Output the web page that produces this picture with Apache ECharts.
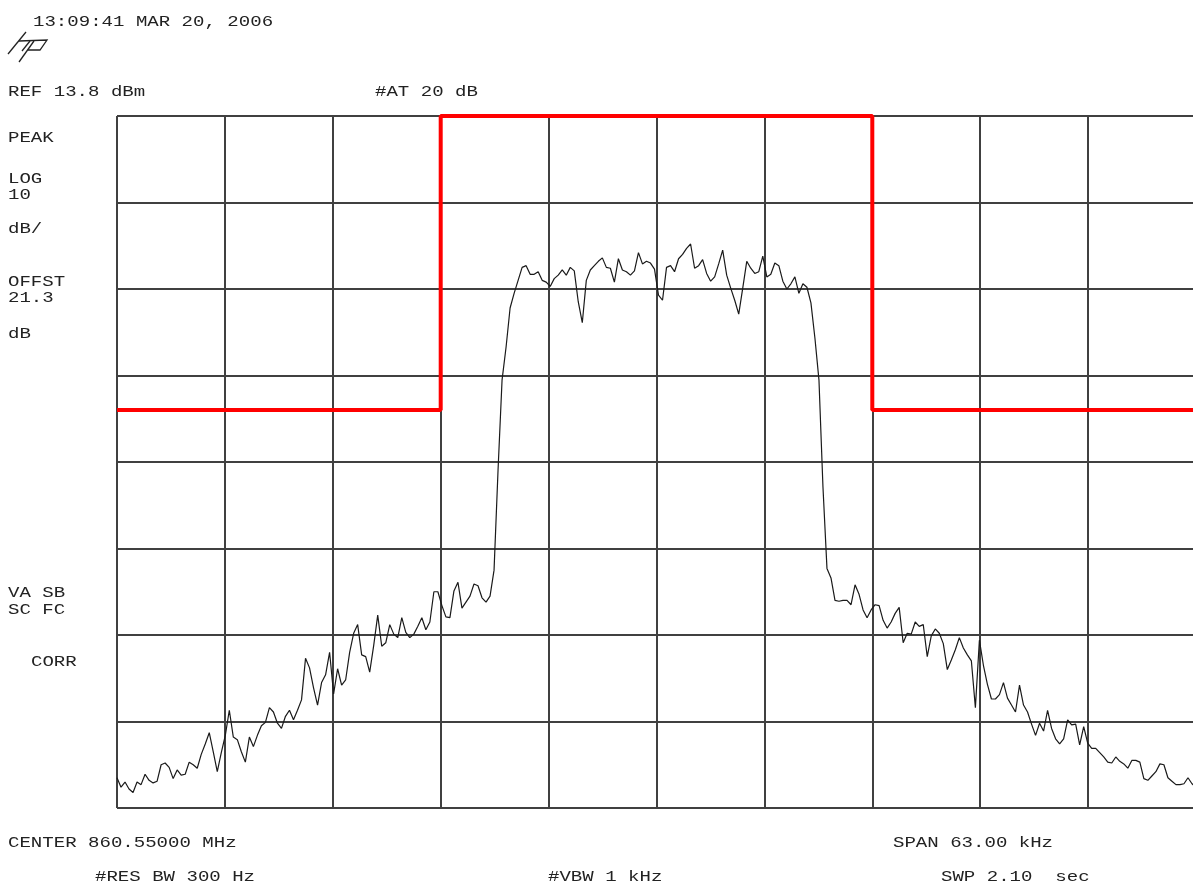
<!DOCTYPE html>
<html>
<head>
<meta charset="utf-8">
<script src="https://cdn.jsdelivr.net/npm/echarts@6/dist/echarts.min.js"></script>
<style>
html,body{margin:0;padding:0;background:#ffffff;overflow:hidden;}
#chart{width:1200px;height:889px;}
</style>
</head>
<body>
<div id="chart"></div>
<script>
// ---- Instrument settings ----
const REF_DBM = 13.8;          // reference level (top graticule line)
const DB_PER_DIV = 10;         // LOG 10 dB/
const SPAN_KHZ = 63.0;         // SPAN 63.00 kHz
const FREQ_DIV_KHZ = 6.3;      // span / 10 divisions

// ---- Trace: level relative to REF (dB), evenly spaced sweep points across the span ----
const sweepLevels = [
  -76.5, -77.6, -77.0, -77.8, -78.2, -77.0, -77.3, -76.1, -76.8, -77.1,
  -76.9, -75.0, -74.8, -75.3, -76.6, -75.6, -76.2, -76.1, -74.7, -75.0,
  -75.4, -73.8, -72.6, -71.3, -73.5, -75.8, -73.6, -71.6, -68.7, -71.8,
  -72.1, -73.5, -74.7, -71.8, -72.9, -71.6, -70.5, -70.1, -68.4, -68.9,
  -70.2, -70.8, -69.4, -68.7, -69.8, -68.7, -67.5, -62.7, -63.8, -66.1,
  -68.1, -65.5, -64.6, -62.0, -66.8, -63.9, -65.8, -65.2, -62.0, -59.8,
  -58.8, -62.3, -62.5, -64.3, -61.2, -57.7, -61.3, -60.9, -58.8, -59.9,
  -60.3, -58.0, -59.7, -60.3, -59.9, -59.0, -58.0, -59.4, -58.5, -55.0,
  -55.0, -56.6, -57.9, -58.0, -54.9, -53.9, -56.9, -56.2, -55.5, -54.1,
  -54.3, -55.7, -56.2, -55.5, -52.5, -40.9, -30.5, -26.7, -22.2, -20.5,
  -19.0, -17.5, -17.3, -18.3, -18.3, -18.0, -19.0, -19.2, -19.7, -18.8,
  -18.4, -17.8, -18.4, -17.5, -17.9, -21.5, -23.9, -19.0, -17.8, -17.3,
  -16.8, -16.4, -17.5, -17.6, -19.2, -16.5, -17.8, -18.0, -18.4, -17.9,
  -15.8, -17.1, -16.8, -17.0, -17.7, -20.7, -21.3, -17.5, -17.3, -18.0,
  -16.5, -16.0, -15.3, -14.8, -17.6, -17.3, -16.6, -18.2, -19.1, -18.6,
  -17.1, -15.5, -18.4, -19.9, -21.3, -22.9, -19.9, -16.8, -17.6, -18.2,
  -18.0, -16.2, -18.6, -18.3, -17.0, -17.3, -19.1, -20.0, -19.4, -18.6,
  -20.5, -19.4, -19.8, -21.6, -25.7, -30.5, -42.9, -52.3, -53.4, -56.0,
  -56.1, -56.0, -56.0, -56.5, -54.2, -55.3, -57.1, -58.0, -57.1, -56.5,
  -56.6, -58.3, -59.2, -58.5, -57.5, -56.8, -60.9, -59.8, -59.9, -58.5,
  -59.0, -58.8, -62.5, -60.1, -59.3, -59.8, -61.0, -64.0, -62.9, -61.7,
  -60.3, -61.5, -62.3, -63.0, -68.4, -60.6, -63.5, -65.7, -67.4, -67.4,
  -66.9, -65.5, -67.3, -68.1, -68.9, -65.8, -68.1, -68.9, -70.3, -71.6,
  -70.2, -71.1, -68.7, -70.8, -72.0, -72.6, -72.0, -69.8, -70.4, -70.3,
  -72.7, -70.6, -72.5, -73.1, -73.1, -73.6, -74.1, -74.7, -74.8, -74.1,
  -74.6, -74.9, -75.4, -74.5, -74.5, -74.7, -76.6, -76.8, -76.3, -75.8,
  -74.9, -75.0, -76.5, -76.9, -77.3, -77.3, -77.2, -76.5, -77.2, -77.6
];

// ---- Limit mask (red) ----
const maskFreq  = [-31.5, -12.6, -12.6, 12.6, 12.6, 31.5];
const maskLevel = [-34, -34, 0, 0, -34, -34];

// ---- Screen annotation texts ----
const headerTexts = [
  {t: '13:09:41 MAR 20, 2006', x: 33, y: 22},
  {t: 'REF 13.8 dBm', x: 8, y: 92},
  {t: '#AT 20 dB', x: 375, y: 92}
];
const sideTexts = [
  {t: 'PEAK', x: 8, y: 138},
  {t: 'LOG', x: 8, y: 179},
  {t: '10', x: 8, y: 195},
  {t: 'dB/', x: 8, y: 229},
  {t: 'OFFST', x: 8, y: 282},
  {t: '21.3', x: 8, y: 298},
  {t: 'dB', x: 8, y: 334},
  {t: 'VA SB', x: 8, y: 593},
  {t: 'SC FC', x: 8, y: 610},
  {t: 'CORR', x: 31, y: 662}
];
const footerTexts = [
  {t: 'CENTER 860.55000 MHz', x: 8, y: 843},
  {t: 'SPAN 63.00 kHz', x: 893, y: 843},
  {t: '#RES BW 300 Hz', x: 95, y: 877},
  {t: '#VBW 1 kHz', x: 548, y: 877},
  {t: 'SWP 2.10  sec', x: 941, y: 877}
];

// sweep point frequencies (offset from center, kHz)
const freqKHz = sweepLevels.map((_, i) => -SPAN_KHZ / 2 + i * SPAN_KHZ / (sweepLevels.length - 1));
const traceData = sweepLevels.map((v, i) => [freqKHz[i], v]);
const maskData = maskFreq.map((f, i) => [f, maskLevel[i]]);

const FONT = '15px "Liberation Mono", "DejaVu Sans Mono", monospace';
function textEl(o) {
  return {
    type: 'text', x: o.x, y: o.y, scaleX: 1.27, scaleY: 1, silent: true,
    style: { text: o.t, font: FONT, fill: '#222222', textVerticalAlign: 'middle', verticalAlign: 'middle' }
  };
}
const logoStroke = { stroke: '#222222', lineWidth: 1.3, fill: null };
const graphics = []
  .concat(headerTexts.map(textEl), sideTexts.map(textEl), footerTexts.map(textEl))
  .concat([
    { type: 'polyline', silent: true, shape: { points: [[8, 54], [26, 32]] }, style: logoStroke },
    { type: 'polyline', silent: true, shape: { points: [[19, 41], [47, 40], [40, 50], [28, 50]] }, style: logoStroke },
    { type: 'polyline', silent: true, shape: { points: [[30, 41], [22, 51]] }, style: logoStroke },
    { type: 'polyline', silent: true, shape: { points: [[34, 41], [19, 62]] }, style: logoStroke }
  ]);

const gridLine = { color: '#404040', width: 2 };
const chart = echarts.init(document.getElementById('chart'), null, { renderer: 'canvas' });
chart.setOption({
  backgroundColor: '#ffffff',
  animation: false,
  grid: { left: 117, top: 116, width: 1079, height: 692, containLabel: false },
  xAxis: {
    type: 'value', min: -SPAN_KHZ / 2, max: SPAN_KHZ / 2, interval: FREQ_DIV_KHZ,
    axisLine: { show: false }, axisTick: { show: false }, axisLabel: { show: false },
    splitLine: { show: true, showMinLine: true, showMaxLine: true, lineStyle: gridLine }
  },
  yAxis: {
    type: 'value', min: -8 * DB_PER_DIV, max: 0, interval: DB_PER_DIV,
    axisLine: { show: false }, axisTick: { show: false }, axisLabel: { show: false },
    splitLine: { show: true, showMinLine: true, showMaxLine: true, lineStyle: gridLine }
  },
  graphic: graphics,
  series: [
    {
      name: 'trace', type: 'line', data: traceData, showSymbol: false, symbol: 'none',
      lineStyle: { color: '#1a1a1a', width: 1.2 }, z: 3, clip: true
    },
    {
      name: 'mask', type: 'line', data: maskData, showSymbol: false, symbol: 'none',
      lineStyle: { color: '#ff0000', width: 4 }, z: 5, clip: false
    }
  ]
});
</script>
</body>
</html>
